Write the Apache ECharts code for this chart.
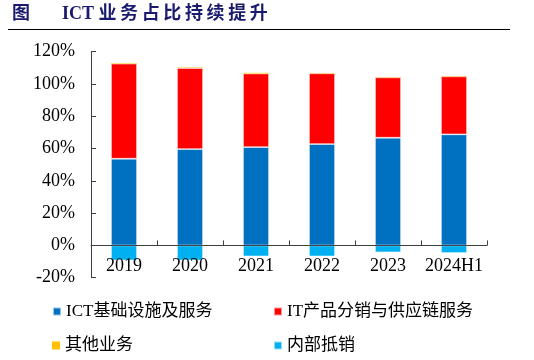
<!DOCTYPE html>
<html><head><meta charset="utf-8">
<script src="https://cdn.jsdelivr.net/npm/echarts@6/dist/echarts.min.js"></script>
<style>html,body{margin:0;padding:0;background:#fff}#c{width:534px;height:360px}</style>
</head><body><div id="c"></div>
<script>
const categories = ['2019', '2020', '2021', '2022', '2023', '2024H1'];
const ictInfra = [53.7, 59.7, 60.9, 62.8, 66.7, 68.8];
const itDistribution = [58.9, 50.2, 45.6, 43.8, 37.4, 35.9];
const otherBiz = [0.3, 0.3, 0.4, 0.2, 0.2, 0.2];
const internalOffset = [-9.3, -9.3, -6.8, -6.8, -4.3, -4.7];
const yTicks = { min: -20, max: 120, interval: 20 };
const names = ['ICT基础设施及服务', 'IT产品分销与供应链服务', '其他业务', '内部抵销'];
const colors = ['#0070C0', '#FF0000', '#FFC000', '#00B0F0'];

const serif = '"Liberation Serif", "Times New Roman", serif';
const cjk = '"Liberation Serif", "Noto Sans CJK SC", serif';
const chart = echarts.init(document.getElementById('c'));
const itemStyle = (c) => ({ color: c, borderColor: 'rgba(255,255,255,0.6)', borderWidth: 0.8 });
function legendAt(i, left, top) {
  return {
    data: [names[i]], left: left, top: top, icon: 'rect', itemWidth: 8, itemHeight: 8, itemGap: 5,
    textStyle: { fontFamily: cjk, fontSize: 17, color: '#000' }, selectedMode: false
  };
}
// zero line sits (0 - min) / (max - min) of the plot height above the grid bottom
const gridTop = 51.7, gridBottom = 82.3, plotH = 360 - gridTop - gridBottom;
const zeroOffset = -plotH * (0 - yTicks.min) / (yTicks.max - yTicks.min);
chart.setOption({
  animation: false,
  color: colors,
  graphic: [
    { type: 'text', left: 12, top: 5, style: { text: '图', font: 'bold 18px ' + cjk, fill: '#1a1a6e' } },
    { type: 'text', left: 62, top: 5, style: { text: 'ICT 业\u2009务\u2009占\u2009比\u2009持\u2009续\u2009提\u2009升', font: 'bold 18px ' + cjk, fill: '#1a1a6e' } },
    { type: 'line', shape: { x1: 8, y1: 29.5, x2: 510, y2: 29.5 }, style: { stroke: '#000', lineWidth: 1 } }
  ],
  legend: [
    legendAt(0, 47, 298),
    legendAt(1, 268, 298),
    legendAt(2, 47, 332),
    legendAt(3, 268, 332)
  ],
  grid: { left: 91, right: 47, top: gridTop, bottom: gridBottom },
  xAxis: {
    type: 'category', data: categories, z: 10, position: 'bottom', offset: zeroOffset,
    axisLine: { onZero: false, lineStyle: { color: '#404040', width: 1 } },
    axisTick: { show: true, inside: true, length: 5, lineStyle: { color: '#404040' } },
    axisLabel: { fontFamily: serif, fontSize: 18, color: '#000', margin: 12, interval: 0, hideOverlap: false }
  },
  yAxis: {
    type: 'value', min: yTicks.min, max: yTicks.max, interval: yTicks.interval,
    splitLine: { show: false },
    axisLine: { show: true, lineStyle: { color: '#404040', width: 1 } },
    axisTick: { show: true, inside: true, length: 5, lineStyle: { color: '#404040' } },
    axisLabel: { fontFamily: serif, fontSize: 18, color: '#000', margin: 16, formatter: '{value}%' }
  },
  series: [
    { name: names[0], type: 'bar', stack: 'a', barWidth: 26, data: ictInfra, itemStyle: itemStyle(colors[0]) },
    { name: names[1], type: 'bar', stack: 'a', barWidth: 26, data: itDistribution, itemStyle: itemStyle(colors[1]) },
    { name: names[2], type: 'bar', stack: 'a', barWidth: 26, data: otherBiz, itemStyle: { color: colors[2] } },
    { name: names[3], type: 'bar', stack: 'a', barWidth: 26, data: internalOffset, itemStyle: itemStyle(colors[3]) }
  ]
});
</script></body></html>
